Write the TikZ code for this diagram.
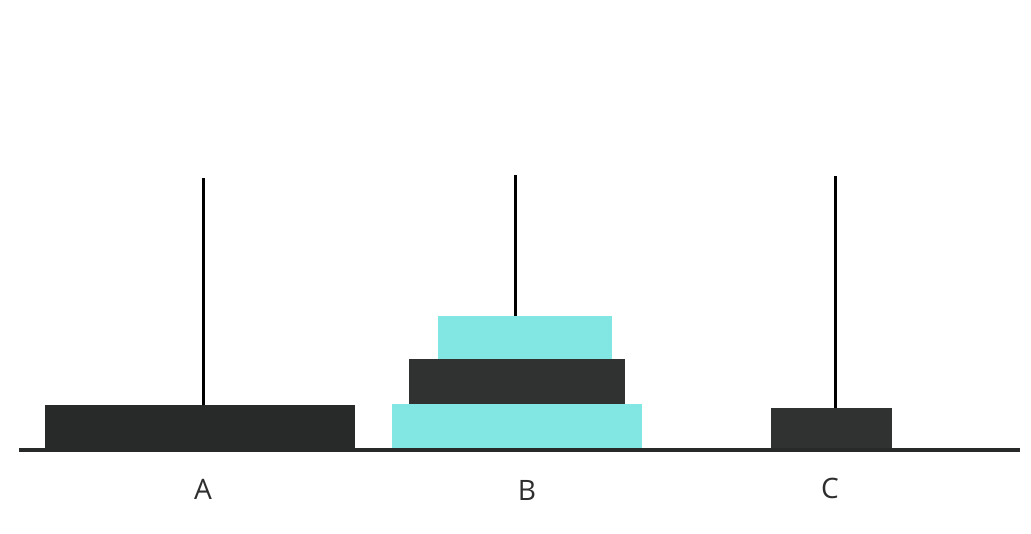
\documentclass[tikz,border=0pt]{standalone}
\usepackage{fontspec}
\setsansfont{Open Sans}
\usepackage{tikz}
\usetikzlibrary{positioning}
\definecolor{hn-dark}{HTML}{303131}
\definecolor{hn-darker}{HTML}{282929}
\definecolor{hn-cyan}{HTML}{82E7E2}
\definecolor{hn-text}{HTML}{2E2E2E}

\begin{document}
\begin{tikzpicture}[x=0.03cm, y=-0.03cm,
    disk/.style={inner sep=0pt, outer sep=0pt},
    peg/.style={line width=0.09cm, black},
    ground/.style={line width=0.135cm, hn-darker},
    label/.style={font=\sffamily\fontsize{24}{28}\selectfont, text=hn-text}]
    \useasboundingbox (0,0) rectangle (1031,534);

    % --- Ground line ---
    \draw[ground] (19,450) -- (1020,450);

    % --- Disks ---
    \node[disk, fill=hn-darker, minimum width=9.3cm, minimum height=1.29cm, anchor=south] (a1) at (200,448) {};
    \node[disk, fill=hn-cyan, minimum width=7.5cm, minimum height=1.32cm, anchor=south] (b1) at (517,448) {};
    \node[disk, fill=hn-dark, minimum width=6.45cm, minimum height=1.35cm, above=0pt of b1] (b2) {};
    \node[disk, fill=hn-cyan, minimum width=5.22cm, minimum height=1.29cm, above=0pt of b2, xshift=0.25cm] (b3) {};
    \node[disk, fill=hn-dark, minimum width=3.63cm, minimum height=1.2cm, anchor=south] (c1) at (831.5,448) {};

    % --- Pegs ---
    \coordinate (pa) at (203,178);
    \coordinate (pb) at (515,175);
    \coordinate (pc) at (835,176);
    \draw[peg] (pa) -- (pa |- a1.north);
    \draw[peg] (pb) -- (pb |- b3.north);
    \draw[peg] (pc) -- (pc |- c1.north);

    % --- Labels ---
    \node[label] (la) at (203,489) {A};
    \node[label] (lb) at (527,490) {B};
    \node[label] (lc) at (830,488) {C};
\end{tikzpicture}
\end{document}
